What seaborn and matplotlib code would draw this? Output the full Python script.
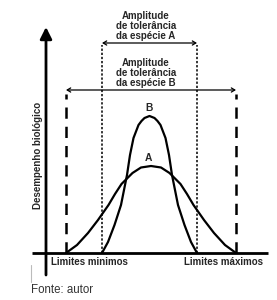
import matplotlib
matplotlib.use("Agg")
import matplotlib.pyplot as plt
import seaborn as sns
import pandas as pd

# ---- data (x = environmental factor, y = performance) ----
curve_b_x = [56, 62, 68.5, 75, 78, 81, 84, 87.5, 92.5, 95.5, 98.5, 103.5,
             108.5, 111.5, 114.5, 119.5, 123, 126, 129, 132, 138.5, 145, 151]
curve_b_y = [0, 11, 28, 48, 63, 78, 98, 115, 128, 132, 135, 137,
             135, 132, 128, 115, 98, 78, 63, 48, 28, 11, 0]
curve_a_x = [20, 31, 42, 52, 62.5, 69, 75.5, 86.5, 95, 105, 115, 123.5,
             134.5, 141, 147.5, 158, 168, 179, 190]
curve_a_y = [0, 8, 20, 33, 48, 59, 69, 80, 85.5, 87, 85.5, 80,
             69, 59, 48, 33, 20, 8, 0]

limits_a = [56, 151]      # tolerance range of species A
limits_b = [20, 190]      # tolerance range of species B
range_a_level = 210
range_b_level = 163

label_range_a = "Amplitude\nde tolerância\nda espécie A"
label_range_b = "Amplitude\nde tolerância\nda espécie B"
label_min = "Limites minimos"
label_max = "Limites máximos"
label_y = "Desempenho biológico"
label_source = "Fonte: autor"

sns.set_style("white")
plt.rcParams['font.family'] = ['Liberation Sans', 'DejaVu Sans']

fig = plt.figure(figsize=(2.77, 3.0), dpi=100)
ax = fig.add_axes([0, 0, 1, 1])
ax.set_xlim(-46, 231)
ax.set_ylim(-47, 253)
ax.axis("off")

df_a = pd.DataFrame({"x": curve_a_x, "y": curve_a_y})
df_b = pd.DataFrame({"x": curve_b_x, "y": curve_b_y})
sns.lineplot(data=df_a, x="x", y="y", sort=False, color="black", lw=1.6, ax=ax)
sns.lineplot(data=df_b, x="x", y="y", sort=False, color="black", lw=1.6, ax=ax)

# axes
ax.annotate("", xy=(0, 226), xytext=(0, -22),
            arrowprops=dict(arrowstyle="-|>,head_length=0.7,head_width=0.35",
                            color="black", lw=2, shrinkA=0, shrinkB=0))
ax.plot([-14, 222], [0, 0], color="black", lw=2, solid_capstyle="butt")

# tolerance limits
for xv in limits_b:
    ax.plot([xv, xv], [0, range_b_level - 4], color="black", lw=1.8,
            dashes=(4.5, 3.2))
for xv in limits_a:
    ax.plot([xv, xv], [0, range_a_level - 2], color="black", lw=1.1,
            dashes=(1.5, 1.2))

for lims, lev in ((limits_a, range_a_level), (limits_b, range_b_level)):
    ax.annotate("", xy=(lims[0], lev), xytext=(lims[1], lev),
                arrowprops=dict(arrowstyle="<->,head_length=0.25,head_width=0.15",
                                color="black", lw=0.9, shrinkA=0, shrinkB=0))

fs = 7.0
ax.text(100, 227, label_range_a, ha="center", va="center", fontsize=fs,
        fontweight="bold", linespacing=1.0)
ax.text(100, 180, label_range_b, ha="center", va="center", fontsize=fs,
        fontweight="bold", linespacing=1.0)
ax.text(103, 145, "B", ha="center", va="center", fontsize=fs + 0.4, fontweight="bold")
ax.text(102, 95, "A", ha="center", va="center", fontsize=fs + 0.4, fontweight="bold")
ax.text(43, -9, label_min, ha="center", va="center", fontsize=fs, fontweight="bold")
ax.text(178, -9, label_max, ha="center", va="center", fontsize=fs, fontweight="bold")
ax.text(-8, 98, label_y, ha="center", va="center", rotation=90, fontsize=fs,
        fontweight="bold")
ax.text(-15, -37, label_source, ha="left", va="center", fontsize=8.3, color="#333333")
ax.plot([-15, -15], [-12, -29], color="#bbbbbb", lw=0.8)

fig.savefig("out.png", dpi=100)
